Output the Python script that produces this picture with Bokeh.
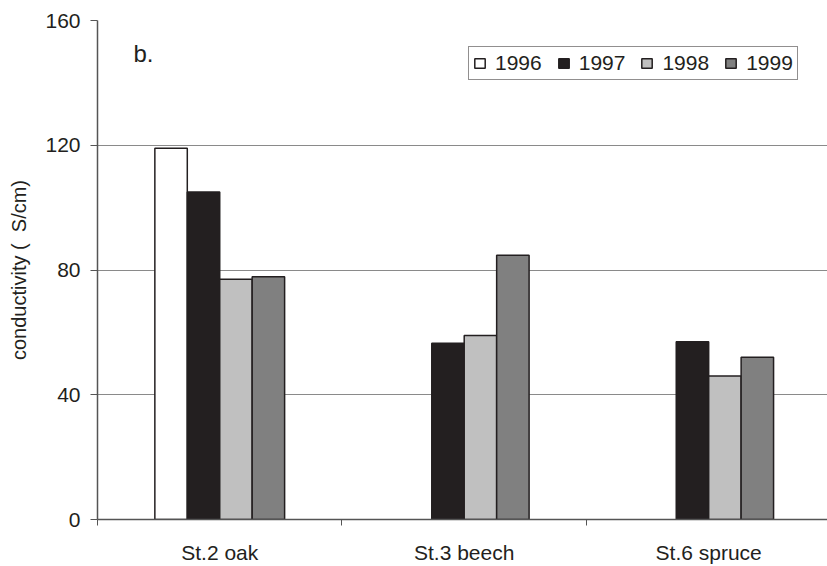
from bokeh.plotting import figure
from bokeh.models import Range1d, FixedTicker, Legend, LegendItem, Label
from bokeh.embed import file_html
from bokeh.resources import INLINE

# ---- data ----
categories = ["St.2 oak", "St.3 beech", "St.6 spruce"]
years = ["1996", "1997", "1998", "1999"]
v1996 = [119, None, None]
v1997 = [105, 56.5, 57]
v1998 = [77, 59, 46]
v1999 = [77.8, 84.7, 52]
y_ticks = [0, 40, 80, 120, 160]
panel_label = "b."
y_title = "conductivity ( \u00a0S/cm)"

series = [v1996, v1997, v1998, v1999]
fills = ["#ffffff", "#231f20", "#c0c0c0", "#808080"]
FONT = "Liberation Sans"
TXT = "#231f20"

p = figure(width=827, height=566, output_backend="svg", toolbar_location=None,
           x_range=Range1d(0, 2.986), y_range=Range1d(0, 160),
           min_border_left=97, min_border_right=0, min_border_top=20, min_border_bottom=47)
p.outline_line_color = None
p.background_fill_color = "white"

bw = 0.1327
items = []
for k, (yr, vals, fc) in enumerate(zip(years, series, fills)):
    xs, tops = [], []
    for i, v in enumerate(vals):
        if v is not None:
            xs.append(i + 0.5 + (k - 1.5) * bw)
            tops.append(v)
    r = p.vbar(x=xs, top=tops, width=bw, bottom=0, fill_color=fc,
               line_color="#231f20", line_width=1.5)
    items.append(LegendItem(label=yr, renderers=[r]))

# axes
p.xaxis.ticker = FixedTicker(ticks=[i + 0.5 for i in range(len(categories))],
                             minor_ticks=list(range(len(categories) + 1)))
p.xaxis.major_label_overrides = {i + 0.5: c for i, c in enumerate(categories)}
p.xaxis.major_tick_out = 0
p.xaxis.major_tick_in = 0
p.xaxis.minor_tick_out = 6
p.xaxis.minor_tick_in = 0
p.xaxis.minor_tick_line_color = "#555555"
p.xaxis.major_label_standoff = 15
p.xaxis.major_label_text_font = FONT
p.xaxis.major_label_text_font_size = "21px"
p.xaxis.major_label_text_color = TXT
p.xaxis.axis_line_color = "#555555"
p.xaxis.axis_line_width = 1.5

p.yaxis.ticker = FixedTicker(ticks=y_ticks)
p.yaxis.major_tick_out = 7
p.yaxis.major_tick_in = 0
p.yaxis.minor_tick_line_color = None
p.yaxis.major_tick_line_color = "#555555"
p.yaxis.axis_line_color = "#555555"
p.yaxis.axis_line_width = 1.5
p.yaxis.major_label_standoff = 10
p.yaxis.major_label_text_font = FONT
p.yaxis.major_label_text_font_size = "21px"
p.yaxis.major_label_text_color = TXT
p.yaxis.axis_label = y_title
p.yaxis.axis_label_text_font = FONT
p.yaxis.axis_label_text_font_size = "20px"
p.yaxis.axis_label_text_font_style = "normal"
p.yaxis.axis_label_text_color = TXT
p.yaxis.axis_label_standoff = 12

p.xgrid.grid_line_color = None
p.ygrid.grid_line_color = "#8a8a8a"
p.ygrid.grid_line_width = 1

p.add_layout(Label(x=0.147, y=145.2, text=panel_label, text_font=FONT,
                   text_font_size="24px", text_color=TXT))

legend = Legend(items=items, orientation="horizontal", location=(371, 439),
                glyph_width=13, glyph_height=12, label_standoff=9, spacing=15,
                padding=4, margin=0, label_text_font=FONT, label_text_font_size="21px",
                label_text_color=TXT, border_line_color="#231f20", border_line_width=1,
                background_fill_alpha=1, label_height=20)
p.add_layout(legend)

open("out.html", "w").write(file_html(p, INLINE))
